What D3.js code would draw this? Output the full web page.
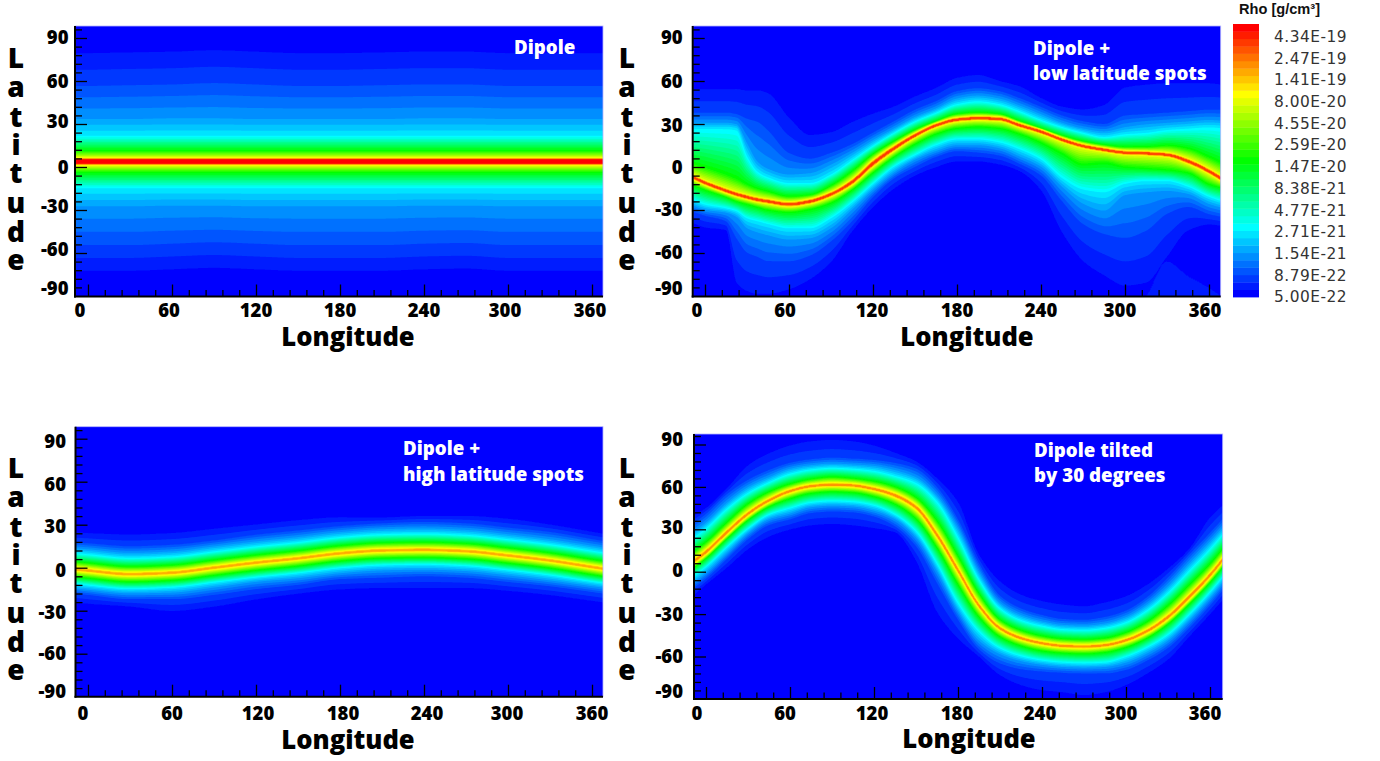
<!DOCTYPE html>
<html><head><meta charset="utf-8">
<script src="https://cdn.jsdelivr.net/npm/d3@7/dist/d3.min.js"></script>
<style>
html,body{margin:0;padding:0;background:#fff}
svg{display:block}
text{font-family:"Open Sans",sans-serif}
</style></head><body>
<svg id="c" width="1380" height="761"></svg>
<script>
// ---------- colour bar ----------
const barLabels = ["4.34E-19","2.47E-19","1.41E-19","8.00E-20","4.55E-20","2.59E-20","1.47E-20","8.38E-21","4.77E-21","2.71E-21","1.54E-21","8.79E-22","5.00E-22"];
const barValues = [4.34e-19,2.47e-19,1.41e-19,8.00e-20,4.55e-20,2.59e-20,1.47e-20,8.38e-21,4.77e-21,2.71e-21,1.54e-21,8.79e-22,5.00e-22];
const rhoMin = 5e-22, rhoMax = 6e-19, bandCount = 37;
// density contours traced in every panel
const rhoYellow = 8e-20, rhoGreen = 1.76e-20, rhoCyan = 2.71e-21, rhoBlue1 = 1.54e-21, rhoBlue2 = 8.79e-22, rhoEdge = 6.1e-22;

const xMajor = [0,60,120,180,240,300,360];
const xMinor = [12,24,36,48,72,84,96,108,132,144,156,168,192,204,216,228,252,264,276,288,312,324,336,348];
const yMajor = [90,60,30,0,-30,-60,-90];
const yMinor = [96,84,78,72,66,54,48,42,36,24,18,12,6,-6,-12,-18,-24,-36,-42,-48,-54,-66,-72,-78,-84];

// ---------- panel 1: Dipole (latitudes of each contour, by longitude) ----------
const p1Lon = [-30,0,30,60,90,120,150,180,210,240,270,300,330,360,390];
const p1Ridge  = [3.8,3.8,3.8,3.8,3.8,3.8,3.8,3.8,3.8,3.8,3.8,3.8,3.8,3.8,3.8];
const p1GreenN = [11.3,11.3,11.3,11.3,11.3,11.3,11.3,11.3,11.3,11.3,11.3,11.3,11.3,11.3,11.3];
const p1CyanN  = [22,22,22,22,22,22,22,22,22,22,22,22,22,22,22];
const p1Blue1N = [34,34,34,34.5,34.5,34,34,34,34,34.5,34.5,34,34,34,34];
const p1Blue2N = [57,57,57.5,58,59,58,57,57,57.5,58,58,57,57,57,57];
const p1EdgeN  = [79,79,79.5,80,81,80,79,79,79.5,80,80,79,79,79,79];
const p1GreenS = [-3.7,-3.7,-3.7,-3.7,-3.7,-3.7,-3.7,-3.7,-3.7,-3.7,-3.7,-3.7,-3.7,-3.7,-3.7];
const p1CyanS  = [-15,-15,-15,-15,-15,-15,-15,-15,-15,-15,-15,-15,-15,-15,-15];
const p1Blue1S = [-28,-28,-28,-27.5,-27.5,-28,-28,-28,-28,-27.5,-27.5,-28,-28,-28,-28];
const p1Blue2S = [-55,-55,-55,-54,-53,-54,-55,-55,-55,-54,-53.5,-55,-55,-55,-55];
const p1EdgeS  = [-72,-72,-72,-71,-70,-71,-72,-72,-72,-71,-70.5,-72,-72,-72,-72];
const p1Yellow = [3,3,3,3,3,3,3,3,3,3,3,3,3,3,3];

// ---------- panel 2: Dipole + low latitude spots ----------
const p2Lon = [-15,0,15,22.5,30,37.5,45,60,75,90,105,120,135,150,165,180,195,210,225,240,255,270,285,300,315,330,345,360,375];
const p2Ridge  = [-4,-11,-16.5,-19,-21,-22.8,-24,-26,-24,-19,-10.5,2.5,13,22,29,33,34,33.5,29,24.6,19,14.6,12,10,9.5,8.5,4,-3,-12];
const p2GreenN = [4,0,-5,-8,-12,-15,-17,-20.5,-19.5,-13,-3,9,18,26,32,37,38,37,32,27,22,18,15.5,14,14,15,13,7,0];
const p2CyanN  = [27,27,27,26,8,-3,-7,-11,-11,-5,5,15,24,32,38,44,46,44,39,33,28,24,21,23,24,26,27,28,27];
const p2Blue1N = [31,31,31,30,17,4,-1,-5,-4,2,10,19,27,35,41,48,50,48,43,37,31,27,25,28,30,31,32,33,32];
const p2Blue2N = [38,38,38,37,34,32,26,10,6,10,16,24,32,40,46,53,55,53,48,42,36,32,30,36,37,38,39,40,40];
const p2EdgeN  = [54,54,54,54,53,53,51,34,22,24,31,37,42,49,55,62,64,60,56,48,42,40,43,55,57,58,58,58,56];
const p2GreenS = [-10,-16,-21,-24,-26,-28,-30,-31.5,-29.5,-25,-16,-4,7,16,23,27,28,27,23,17,9.5,2,3,0,-1,-2,-4,-12,-16];
const p2CyanS  = [-20,-26.5,-29,-31,-36,-38,-40,-43,-43,-36,-25,-12,0,8,15,19,19,17,12,5,-8,-16,-18,-12,-10,-10,-14,-21,-26];
const p2Blue1S = [-24,-30,-32,-35,-43,-46,-48,-51,-50,-43,-30,-16,-4,5,11,15,15,13,7,0,-14,-26,-31,-20,-18,-17,-19,-26,-30];
const p2Blue2S = [-29,-34,-38,-50,-60,-63,-66,-66,-62,-52,-38,-21,-8,0,7,11,10,8,2,-6,-24,-40,-47,-50,-45,-33,-28,-33,-36];
const p2EdgeS  = [-36,-42,-44,-80,-86,-88,-88,-85,-78,-66,-45,-28,-15,-6,0,4,4,2,-3,-16,-45,-65,-75,-82,-80,-62,-44,-40,-42];
const p2Yellow = [2,2,2,2,2,2,2,2,2,2,2.4,2.8,2.4,2,1.8,1.8,1.8,1.8,1.8,1.8,1.8,1.8,1.8,1.8,1.8,1.8,2.2,2.2,2.2];
// the faint shell below the dark pocket at the lower right of panel 2
const p2PaleLon = [300,315,330,345,360,375];
const p2PaleTop = [-100,-90,-66,-76,-84,-95];
const rhoPale = 6.6e-22;

// ---------- panel 3: Dipole + high latitude spots ----------
const p3Lon = [-30,0,30,60,90,120,150,180,210,240,270,300,330,360,390];
const p3Ridge  = [1,-2,-4.5,-3.5,0,3.5,6.5,10,12,12.4,11.5,8.5,5,0.5,-4];
const p3GreenN = [6.3,3.3,0.8,1.8,5.3,8.8,11.8,15.3,17.3,17.7,16.8,13.8,10.3,5.8,1.3];
const p3CyanN  = [12,9.5,7,8,11.5,15,18,21.5,23.5,24,23,20,16.5,12,7.5];
const p3Blue1N = [15,13,10.5,11.5,15,18.5,21.5,25,27,27.5,26.5,23.5,20,15.5,11];
const p3Blue2N = [19,17,15,16,19,23,26,29,31,32,31,28,25,20,15];
const p3EdgeN  = [26,24,23,24,27,30,33,35,35,36,36,34,30,25,20];
const p3GreenS = [-4.3,-7.3,-9.8,-8.8,-5.3,-1.8,1.2,4.7,6.7,7.1,6.2,3.2,-0.3,-4.8,-9.3];
const p3CyanS  = [-9,-12.5,-15,-14,-10.5,-7,-4,-0.5,1.5,2,1,-2,-5.5,-10,-14];
const p3Blue1S = [-12,-15.5,-18,-17.5,-14,-10,-7.5,-4,-2,-1.5,-2.5,-5.5,-9,-13,-17];
const p3Blue2S = [-16,-19,-22,-22,-19,-15,-12,-8,-7,-6,-7,-10,-13,-17,-21];
const p3EdgeS  = [-22,-25,-27,-30,-27,-22,-18,-15,-14,-14,-14,-16,-19,-23,-27];
const p3Yellow = [1.8,1.8,1.8,1.8,1.8,1.8,1.8,1.8,1.8,1.8,1.8,1.8,1.8,1.8,1.8];

// ---------- panel 4: Dipole tilted by 30 degrees ----------
const p4Lon = [-15,0,15,30,45,60,75,90,105,120,135,150,165,180,195,210,225,240,255,270,285,300,315,330,345,360,375];
const p4Ridge  = [3,14,28,41,50.5,57,60.5,61.6,61,58.5,54,45.5,26,1,-24,-40,-47,-50.6,-52.5,-53,-52,-48.5,-42,-32,-18,-2.4,16];
const p4GreenN = [10,21,35,48,56.5,62,65.5,67,66,64,60,52.5,36,11,-15.5,-34,-41.5,-45.5,-47.5,-48,-47,-43,-35.5,-24,-9.5,5.5,23.5];
const p4CyanN  = [20,31,45,56,63.5,69.5,72.5,73.6,73,71.5,68,63,50,25,-5,-25.5,-34,-38,-40.5,-41,-39.5,-35.5,-27,-14.5,1,16.6,34];
const p4Blue1N = [24,35,49,60,67,73,75.5,76.6,76,75,72,67,54,31,0,-22,-30.5,-35,-37.5,-38,-36.5,-32,-23,-10,6,21.6,38];
const p4Blue2N = [30,41,55,65,72,77,79.5,80.6,80,79,77,73,60,37,6,-17,-26,-30.6,-33.5,-34,-32,-27.5,-18,-4,12,27.6,44];
const p4EdgeN  = [36,45,59,75,83.5,89,92,93,92,89,84,78,66,49,12,-7,-16.5,-21,-23.5,-24.7,-22,-17.6,-9.4,2,16,38,52];
const p4GreenS = [-1.5,9.5,23.5,36.5,46,51.7,55.5,56.6,56,53.2,47.8,37.5,17,-9,-32,-46,-52.4,-56,-57.5,-58,-57,-53.5,-47,-37,-23,-7.5,10.5];
const p4CyanS  = [-8,3,17,30,40,44.5,48.5,49.6,49,46.5,40,28,5,-23,-43,-54.5,-60,-63,-64.5,-65,-64.5,-60.5,-54,-45,-31,-15,3];
const p4Blue1S = [-12,-1,13,27,37,41,45.5,46.6,46,43,37,24,0,-28,-49,-58.5,-63.4,-66,-67.5,-68,-67.5,-64.5,-58,-49,-35,-19,-1];
const p4Blue2S = [-16,-5,9,23,33,37,41.5,42.6,42,39,32,18,-8,-34,-55,-65,-69,-70.6,-71.5,-72,-72,-69.5,-63,-54,-40,-24,-6];
const p4EdgeS  = [-22,-9,3,16,25,30,33,34,33,31,28,8,-28,-47,-60,-73,-80,-83.5,-85,-87,-85,-80,-72,-62,-46,-30,-13];
const p4Yellow = [2.4,2.4,2.4,2.2,2,1.9,1.8,1.8,1.8,1.9,2.2,2.6,3.2,3.2,2.6,2.1,1.9,1.8,1.8,1.8,1.8,1.9,2.1,2.4,2.6,2.6,2.5];

// ---------- layout ----------
const panels = [
 {title:["Dipole"],titleX:[514],titleY:[54],peak:5.5e-19,core:.5,lon:p1Lon,ridge:p1Ridge,yellow:p1Yellow,
  north:[p1GreenN,p1CyanN,p1Blue1N,p1Blue2N,p1EdgeN],south:[p1GreenS,p1CyanS,p1Blue1S,p1Blue2S,p1EdgeS],
  box:[75,603,26,296.5],x0:88,lat0:167,latStep:43,xNudge:[-8,-3,0,0,0,-3,-2],yNudge:[-1,0,-2.3,0,-4,-3.7,-8],yGap:6.5,
  xLabelY:317,axisCx:348,axisY:346,letterX:16,letterDy:0},
 {title:["Dipole +","low latitude spots"],titleX:[1033,1033],titleY:[55,80],peak:3.6e-19,core:.4,lon:p2Lon,ridge:p2Ridge,yellow:p2Yellow,
  north:[p2GreenN,p2CyanN,p2Blue1N,p2Blue2N,p2EdgeN],south:[p2GreenS,p2CyanS,p2Blue1S,p2Blue2S,p2EdgeS],
  paleLon:p2PaleLon,paleTop:p2PaleTop,
  box:[692.7,1220.7,26,296.5],x0:705,lat0:167,latStep:43,xNudge:[-8,-4,-1,0,0,-5,-4],yNudge:[-1,0,1,0,-1,-1,-8],yGap:10,
  xLabelY:317,axisCx:967,axisY:346,letterX:627,letterDy:0},
 {title:["Dipole +","high latitude spots"],titleX:[403,403],titleY:[455,481],peak:1.9e-19,core:.3,lon:p3Lon,ridge:p3Ridge,yellow:p3Yellow,
  north:[p3GreenN,p3CyanN,p3Blue1N,p3Blue2N,p3EdgeN],south:[p3GreenS,p3CyanS,p3Blue1S,p3Blue2S,p3EdgeS],
  box:[75.5,603,426.7,696.7],x0:88,lat0:567.7,latStep:43,xNudge:[-5,0,2,3,3,-1,0],yNudge:[3,3,2,2.3,1.7,0,-5],yGap:9.5,
  xLabelY:720,axisCx:348,axisY:749,letterX:16,letterDy:410},
 {title:["Dipole tilted","by 30 degrees"],titleX:[1034,1034],titleY:[457,482],peak:2.1e-19,core:.35,lon:p4Lon,ridge:p4Ridge,yellow:p4Yellow,
  north:[p4GreenN,p4CyanN,p4Blue1N,p4Blue2N,p4EdgeN],south:[p4GreenS,p4CyanS,p4Blue1S,p4Blue2S,p4EdgeS],
  box:[694,1222.7,434,699],x0:706,lat0:571.7,latStep:42.4,xNudge:[-9,-5,-2,-1,-2,-5,-5],yNudge:[-5,.7,-2,-1.7,0,-.3,-7.3],yGap:11,
  xLabelY:720,axisCx:969,axisY:748,letterX:627,letterDy:410}
];
const letterBase = [68,97,127,155,183,213,242,270];

// ---------- scales ----------
const t = d3.scaleLog().domain([rhoMin,rhoMax]).range([0,1]);
const colour = d3.scaleLinear().domain([0,.25,.5,.75,1])
  .range(["#0000ff","#00ffff","#00ff00","#ffff00","#ff0000"]).clamp(true);
const bands = d3.range(bandCount);                         // Tecplot-style stepped levels
const bandLow = i => t.invert(i/bandCount);
const bandColour = i => colour(i/(bandCount-1));
const svg = d3.select("#c");
const defs = svg.append("defs");
defs.append("filter").attr("id","soft").attr("x","-2%").attr("y","-2%").attr("width","104%").attr("height","104%")
  .append("feGaussianBlur").attr("stdDeviation",0.55);

// monotone cubic read-through of the knots
function through(xs, ys){
  const n=xs.length, s=d3.range(n-1).map(i=>(ys[i+1]-ys[i])/(xs[i+1]-xs[i]));
  const m=xs.map((_,i)=>{
    if(i===0) return s[0];
    if(i===n-1) return s[n-2];
    if(s[i-1]*s[i]<=0) return 0;
    const a=xs[i]-xs[i-1], b=xs[i+1]-xs[i];
    return 3*(a+b)/((2*b+a)/s[i-1]+(b+2*a)/s[i]);
  });
  return x=>{
    const i=Math.min(n-2,Math.max(0,d3.bisectRight(xs,x)-1));
    const h=xs[i+1]-xs[i], u=(x-xs[i])/h, u2=u*u, u3=u2*u;
    return (2*u3-3*u2+1)*ys[i]+(u3-2*u2+u)*h*m[i]+(-2*u3+3*u2)*ys[i+1]+(u3-u2)*h*m[i+1];
  };
}

panels.forEach((p,pi)=>{
  const [L,R,T,B]=p.box, W=Math.round(R-L), H=Math.round(B-T);
  const x=d3.scaleLinear().domain([0,360]).range([p.x0,p.x0+504]);
  const y=d3.scaleLinear().domain([0,30]).range([p.lat0,p.lat0-p.latStep]);
  const g=svg.append("g").attr("class","panel");
  const clipId="clip"+pi;
  defs.append("clipPath").attr("id",clipId).append("rect").attr("x",L).attr("y",T).attr("width",R-L).attr("height",B-T);

  // field
  const ridgeF=through(p.lon,p.ridge), yellowF=through(p.lon,p.yellow);
  const northF=p.north.map(a=>through(p.lon,a)), southF=p.south.map(a=>through(p.lon,a));
  const paleF=p.paleLon?through(p.paleLon,p.paleTop):null;
  const stopVals=[rhoYellow,rhoGreen,rhoCyan,rhoBlue1,rhoBlue2,rhoEdge].map(v=>Math.log10(v));
  const peakLog=Math.log10(p.peak), paleLog=Math.log10(rhoPale);
  const values=new Float64Array(W*H);
  for(let i=0;i<W;i++){
    const lon=x.invert(L+i+.5), r=ridgeF(lon), w=yellowF(lon);
    const ns=[0,w], ss=[0,w];
    northF.forEach(f=>{const o=f(lon)-r; ns.push(Math.max(o,ns[ns.length-1]+.3));});
    southF.forEach(f=>{const o=r-f(lon); ss.push(Math.max(o,ss[ss.length-1]+.3));});
    const vs=[peakLog,...stopVals];
    const nS=d3.scaleLinear().domain(ns).range(vs);
    const sS=d3.scaleLinear().domain(ss).range(vs);
    for(let j=0;j<H;j++){
      const lat=y.invert(T+j+.5), d=lat-r, ad=Math.abs(d);
      let v;
      if(ad<=p.core*w) v=peakLog;
      else v=(d>=0?nS:sS)(ad);
      if(paleF && lon>=p.paleLon[0] && lat<paleF(lon)) v=Math.max(v,paleLog);
      values[j*W+i]=v;
    }
  }
  const contours=d3.contours().size([W,H]).smooth(true);
  const path=d3.geoPath();
  const fieldG=g.append("g").attr("clip-path",`url(#${clipId})`);
  const inner=fieldG.append("g").attr("filter","url(#soft)");
  inner.append("rect").attr("x",L-3).attr("y",T-3).attr("width",R-L+6).attr("height",B-T+6).attr("fill",bandColour(0));
  const shapes=inner.append("g").attr("transform",`translate(${L},${T})`);
  shapes.selectAll("path").data(bands.slice(1)).join("path")
    .attr("fill",bandColour)
    .attr("d",i=>path(contours.contour(values,Math.log10(bandLow(i)))));

  // pale frame, then axes
  g.append("rect").attr("x",L).attr("y",T).attr("width",R-L).attr("height",B-T)
    .attr("fill","none").attr("stroke","#b4b4ff").attr("stroke-width",.8);

  const xAxisY=B, yAxisX=L;
  const minorX=d3.axisTop(x).tickValues(xMinor).tickSize(6.5).tickFormat("");
  const majorX=d3.axisTop(x).tickValues(xMajor).tickSize(12).tickFormat("");
  const minorY=d3.axisRight(y).tickValues(yMinor).tickSize(7).tickFormat("");
  const majorY=d3.axisRight(y).tickValues(yMajor.slice(0,6)).tickSize(12).tickFormat("");
  [minorX,majorX].forEach(a=>{
    const s=g.append("g").attr("transform",`translate(0,${xAxisY})`).call(a);
    s.select(".domain").remove(); s.selectAll("line").attr("stroke","#000").attr("stroke-width",1.3);
  });
  [minorY,majorY].forEach(a=>{
    const s=g.append("g").attr("transform",`translate(${yAxisX},0)`).call(a);
    s.select(".domain").remove(); s.selectAll("line").attr("stroke","#000").attr("stroke-width",1.3);
  });
  g.append("line").attr("x1",L).attr("x2",L).attr("y1",T).attr("y2",B+1).attr("stroke","#000").attr("stroke-width",2);
  g.append("line").attr("x1",L-1).attr("x2",R).attr("y1",B).attr("y2",B).attr("stroke","#000").attr("stroke-width",2);

  // tick labels
  g.append("g").selectAll("text").data(xMajor).join("text")
    .attr("x",(d,i)=>x(d)+p.xNudge[i]).attr("y",p.xLabelY).attr("text-anchor","middle")
    .attr("font-size",18.5).attr("font-weight",800).attr("fill","#000").text(d=>d);
  g.append("g").selectAll("text").data(yMajor).join("text")
    .attr("x",L-p.yGap).attr("y",(d,i)=>y(d)+p.yNudge[i]+6.7).attr("text-anchor","end")
    .attr("font-size",18.5).attr("font-weight",800).attr("fill","#000").text(d=>String(d));

  // axis titles
  g.append("text").attr("x",p.axisCx).attr("y",p.axisY).attr("text-anchor","middle")
    .attr("font-size",25.6).attr("font-weight",800).attr("fill","#000").text("Longitude");
  g.append("text").attr("x",letterBase.map(()=>p.letterX).join(" "))
    .attr("y",letterBase.map(b=>b+p.letterDy).join(" ")).attr("text-anchor","middle")
    .attr("font-size",28).attr("font-weight",800).attr("fill","#000").text("Latitude");

  // panel title
  g.append("g").selectAll("text").data(p.title).join("text")
    .attr("x",(d,i)=>p.titleX[i]).attr("y",(d,i)=>p.titleY[i])
    .attr("font-size",18.7).attr("font-weight",800).attr("fill","#fff").text(d=>d);
});

// ---------- colour bar ----------
const barX=1233, barW=26, barTop=24, barBottom=297;
const barY=d3.scaleLog().domain([rhoMin,rhoMax]).range([barBottom,barTop]);
const barG=svg.append("g").attr("class","legend");
barG.selectAll("rect").data(bands).join("rect")
  .attr("x",barX).attr("width",barW)
  .attr("y",i=>barY(t.invert((i+1)/bandCount)))
  .attr("height",i=>barY(t.invert(i/bandCount))-barY(t.invert((i+1)/bandCount))+.4)
  .attr("fill",bandColour);
barG.append("g").selectAll("text").data(barLabels).join("text")
  .attr("x",1274).attr("y",(d,i)=>barY(barValues[i])+5.4)
  .style("font-family","'DejaVu Sans',sans-serif").style("letter-spacing","0.5px")
  .attr("font-size",15.4).attr("fill","#333").text(d=>d);
barG.append("text").attr("x",1239).attr("y",14).attr("font-size",14.6).attr("font-weight",700).attr("fill","#111")
  .style("font-family","'Liberation Sans',sans-serif")
  .text("Rho [g/cm³]");
</script>
</body></html>
